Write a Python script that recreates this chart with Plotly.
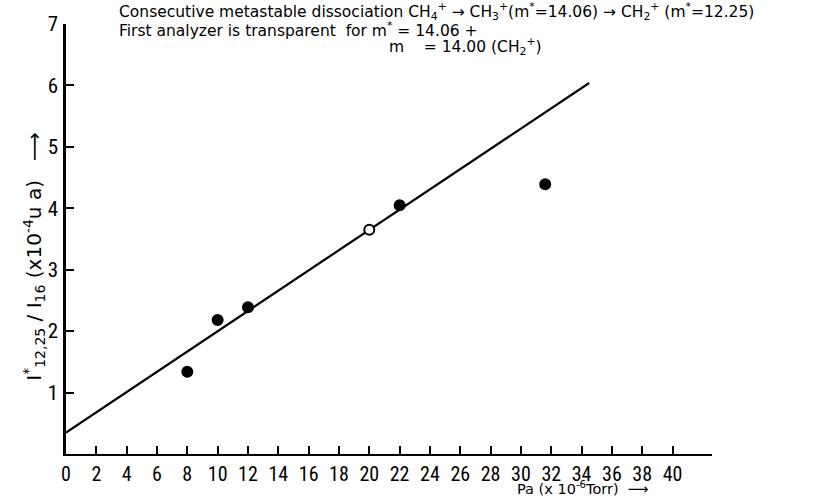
import plotly.graph_objects as go

# Data
pressure = [8.0, 10.0, 12.0, 20.0, 22.0, 31.6]          # Pa (x10^-6 Torr)
ratio = [1.34, 2.18, 2.39, 3.65, 4.05, 4.39]            # I*12,25 / I16 (x10^-4 u a)
point_fill = ["black", "black", "black", "white", "black", "black"]

fit_x = [0.0, 34.5]
fit_y = [0.35, 6.04]

x_ticks = list(range(0, 41, 2))
y_ticks = list(range(1, 8))

FONT = "Liberation Sans Narrow, Roboto Condensed, Liberation Sans, sans-serif"
TEXTFONT = "DejaVu Sans, Liberation Sans, sans-serif"

fig = go.Figure()
fig.add_trace(go.Scatter(x=fit_x, y=fit_y, mode="lines",
                         line=dict(color="black", width=2.2), showlegend=False,
                         hoverinfo="skip"))
fig.add_trace(go.Scatter(x=pressure, y=ratio, mode="markers",
                         marker=dict(size=10, color=point_fill,
                                     line=dict(color="black", width=2)),
                         showlegend=False))

fig.update_xaxes(range=[0, 42.6], tickvals=x_ticks, ticktext=[str(v) for v in x_ticks],
                 ticks="inside", ticklen=8, tickwidth=1.5, tickcolor="black",
                 ticklabelstandoff=1,
                 showline=True, linecolor="black", linewidth=2, showgrid=False,
                 zeroline=False, tickfont=dict(family=FONT, size=20, color="black"))
fig.update_yaxes(range=[0, 7], tickvals=y_ticks, ticktext=[str(v) for v in y_ticks],
                 ticks="inside", ticklen=8, tickwidth=1.5, tickcolor="black",
                 ticklabelstandoff=1,
                 showline=True, linecolor="black", linewidth=2.5, showgrid=False,
                 zeroline=False, tickfont=dict(family=FONT, size=21, color="black"))

ann_font = dict(family=TEXTFONT, size=15.5, color="black")
fig.add_annotation(x=3.35, y=1.03, xref="x", yref="paper", xanchor="left", yanchor="middle",
                   showarrow=False, font=ann_font,
                   text="Consecutive metastable dissociation CH<sub>4</sub><sup>+</sup> → "
                        "CH<sub>3</sub><sup>+</sup>(m<sup>*</sup>=14.06) → "
                        "CH<sub>2</sub><sup>+</sup> (m<sup>*</sup>=12.25)")
fig.add_annotation(x=3.35, y=0.987, xref="x", yref="paper", xanchor="left", yanchor="middle",
                   showarrow=False, font=ann_font,
                   text="First analyzer is transparent  for m<sup>*</sup> = 14.06 +")
fig.add_annotation(x=21.2, y=0.948, xref="x", yref="paper", xanchor="left", yanchor="middle",
                   showarrow=False, font=ann_font,
                   text="m    = 14.00 (CH<sub>2</sub><sup>+</sup>)")

fig.add_annotation(x=-0.05, y=0.458, xref="paper", yref="paper", textangle=-90,
                   xanchor="center", yanchor="middle", showarrow=False,
                   font=dict(family=TEXTFONT, size=20, color="black"),
                   text="I<sup>*</sup><sub>12,25</sub> / I<sub>16</sub> (x10<sup>-4</sup>u a)   ⟶")
fig.add_annotation(x=29.6, y=-0.105, xref="x", yref="paper", xanchor="left", yanchor="bottom",
                   showarrow=False, font=dict(family=TEXTFONT, size=14.5, color="black"),
                   text="Pa (x 10<sup>-6</sup>Torr)  ⟶")

fig.update_layout(width=815, height=501, margin=dict(l=66, r=103, t=24, b=47),
                  plot_bgcolor="white", paper_bgcolor="white")

fig.write_html("out.html")
